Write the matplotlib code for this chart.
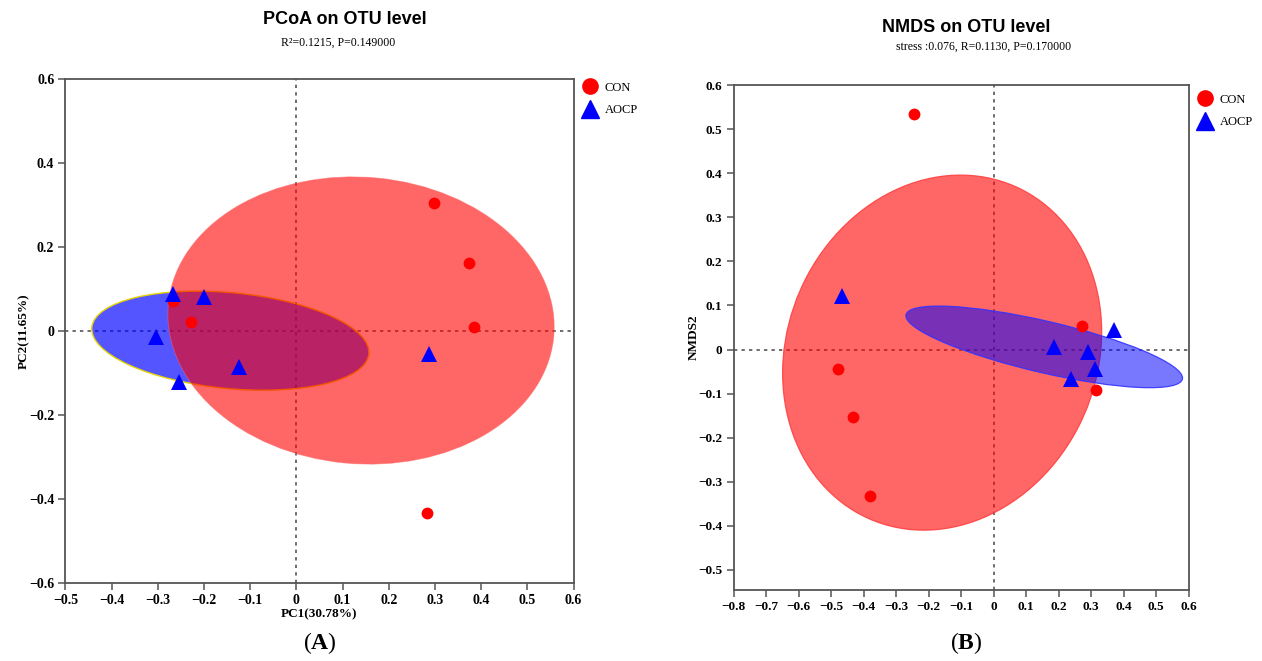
import matplotlib
matplotlib.use("Agg")
import matplotlib.pyplot as plt
from matplotlib.patches import Ellipse
from matplotlib.lines import Line2D

# ---------------- data ----------------
# Panel A: PCoA
pcoa_con_x = [0.298, 0.373, 0.385, -0.229, -0.268, 0.282]
pcoa_con_y = [0.304, 0.162, 0.010, 0.022, 0.072, -0.434]
pcoa_aocp_x = [-0.267, -0.200, -0.303, -0.254, -0.125, 0.287]
pcoa_aocp_y = [0.088, 0.080, -0.015, -0.121, -0.085, -0.054]
# ellipse params: center x, center y, width, height, angle(deg, data space)
pcoa_con_ell = [0.140, 0.025, 0.838, 0.682, -6.1]
pcoa_aocp_ell = [-0.143, -0.023, 0.603, 0.228, -6.2]
pcoa_xticks = [-0.5, -0.4, -0.3, -0.2, -0.1, 0, 0.1, 0.2, 0.3, 0.4, 0.5, 0.6]
pcoa_yticks = [-0.6, -0.4, -0.2, 0, 0.2, 0.4, 0.6]

# Panel B: NMDS
nmds_con_x = [-0.245, 0.271, 0.316, -0.479, -0.432, -0.379]
nmds_con_y = [0.534, 0.053, -0.092, -0.045, -0.154, -0.332]
nmds_aocp_x = [-0.465, 0.372, 0.187, 0.292, 0.312, 0.239]
nmds_aocp_y = [0.121, 0.044, 0.006, -0.006, -0.044, -0.067]
nmds_con_ell = [-0.158, -0.007, 0.994, 0.790, 15.0]
nmds_aocp_ell = [0.156, 0.006, 0.863, 0.118, -9.6]
nmds_xticks = [-0.8, -0.7, -0.6, -0.5, -0.4, -0.3, -0.2, -0.1, 0, 0.1, 0.2, 0.3, 0.4, 0.5, 0.6]
nmds_yticks = [-0.5, -0.4, -0.3, -0.2, -0.1, 0, 0.1, 0.2, 0.3, 0.4, 0.5, 0.6]

groups = ["CON", "AOCP"]

# ---------------- style ----------------
plt.rcParams['mathtext.fontset'] = 'custom'
plt.rcParams['mathtext.rm'] = 'Liberation Serif'
plt.rcParams['mathtext.bf'] = 'Liberation Serif:bold'
SERIF = 'Liberation Serif'
SANS = 'Liberation Sans'
FRAME = '#555555'

fig = plt.figure(figsize=(12.62, 6.61), dpi=100)
W, H = 1262, 661


def fmt(v):
    if abs(v) < 1e-9:
        return "0"
    return ("%.1f" % v).replace("-", "\u2212")


def setup_axes(ax, xticks, yticks, xlim, ylim, fs):
    ax.set_xlim(*xlim)
    ax.set_ylim(*ylim)
    ax.set_xticks(xticks)
    ax.set_yticks(yticks)
    ax.set_xticklabels([fmt(v) for v in xticks], fontfamily=SERIF, fontsize=fs, fontweight='bold')
    ax.set_yticklabels([fmt(v) for v in yticks], fontfamily=SERIF, fontsize=fs, fontweight='bold')
    ax.tick_params(direction='out', length=5, width=1.1, color=FRAME, pad=3)
    for s in ax.spines.values():
        s.set_color(FRAME)
        s.set_linewidth(1.3)
    ax.axhline(0, color='#555555', lw=1.2, ls=(0, (2, 2.5)), zorder=1.5)
    ax.axvline(0, color='#555555', lw=1.2, ls=(0, (2, 2.5)), zorder=1.5)


def add_ellipse(ax, p, fc, alpha, ec, ez, lw=1.0):
    e = Ellipse((p[0], p[1]), p[2], p[3], angle=p[4], facecolor=fc, alpha=alpha,
                edgecolor='none', zorder=ez)
    ax.add_patch(e)
    e2 = Ellipse((p[0], p[1]), p[2], p[3], angle=p[4], facecolor='none',
                 edgecolor=ec, lw=lw, zorder=ez + 0.01)
    ax.add_patch(e2)


def add_legend(ax, y):
    handles = [Line2D([], [], ls='none', marker='o', color='red', markersize=11),
               Line2D([], [], ls='none', marker='^', color='blue', markersize=13)]
    ax.legend(handles, groups, loc='upper left', bbox_to_anchor=(1.0, y), frameon=False,
              prop={'family': SERIF, 'size': 9}, handletextpad=0.6, labelspacing=0.85,
              borderaxespad=0.3, handlelength=1.2)


# ---------------- Panel A ----------------
axA = fig.add_axes([65.4 / W, (H - 583) / H, 508.1 / W, 504 / H])
setup_axes(axA, pcoa_xticks, pcoa_yticks, (-0.5, 0.6), (-0.6, 0.6), 10)
add_ellipse(axA, pcoa_aocp_ell, 'blue', 0.667, '#E6D400', 2)
add_ellipse(axA, pcoa_con_ell, 'red', 0.6, (1, 0.4, 0.4, 0.5), 3, lw=0.6)
axA.plot(pcoa_con_x, pcoa_con_y, 'o', color='red', markersize=8.5, zorder=5, markeredgewidth=0)
axA.plot(pcoa_aocp_x, pcoa_aocp_y, '^', color='blue', markersize=11.5, zorder=6, markeredgewidth=0)
axA.set_xlabel("PC1(30.78%)", fontfamily=SERIF, fontsize=9.5, fontweight='bold', labelpad=1)
axA.set_ylabel("PC2(11.65%)", fontfamily=SERIF, fontsize=9.5, fontweight='bold', labelpad=-1)
add_legend(axA, 1.012)

fig.text(345 / W, 1 - 20 / H, "PCoA on OTU level", ha='center', va='center',
         fontfamily=SANS, fontsize=13, fontweight='bold')
fig.text(338 / W, 1 - 43 / H, "R\u00b2=0.1215, P=0.149000", ha='center', va='center',
         fontfamily=SERIF, fontsize=8.5)
fig.text(320 / W, 1 - 643 / H, r"$(\mathbf{A})$", ha='center', va='center',
         fontfamily=SERIF, fontsize=17)

# ---------------- Panel B ----------------
axB = fig.add_axes([733.5 / W, (H - 590) / H, 455 / W, 505 / H])
setup_axes(axB, nmds_xticks, nmds_yticks, (-0.8, 0.6), (-0.5454, 0.6), 9.5)
add_ellipse(axB, nmds_con_ell, 'red', 0.6, (1, 0.25, 0.25, 0.9), 2, lw=0.9)
add_ellipse(axB, nmds_aocp_ell, 'blue', 0.53, (0.2, 0.2, 1, 0.9), 3, lw=0.9)
axB.plot(nmds_con_x, nmds_con_y, 'o', color='red', markersize=8.5, zorder=5, markeredgewidth=0)
axB.plot(nmds_aocp_x, nmds_aocp_y, '^', color='blue', markersize=11.5, zorder=6, markeredgewidth=0)
axB.set_ylabel("NMDS2", fontfamily=SERIF, fontsize=9.5, fontweight='bold', labelpad=-1)
add_legend(axB, 1.0)

fig.text(966 / W, 1 - 27 / H, "NMDS on OTU level", ha='center', va='center',
         fontfamily=SANS, fontsize=13, fontweight='bold')
fig.text(984 / W, 1 - 47 / H, "stress :0.076, R=0.1130, P=0.170000", ha='center', va='center',
         fontfamily=SERIF, fontsize=8.5)
fig.text(966 / W, 1 - 643 / H, r"$(\mathbf{B})$", ha='center', va='center',
         fontfamily=SERIF, fontsize=17)

fig.savefig("out.png", dpi=100, facecolor='white')
